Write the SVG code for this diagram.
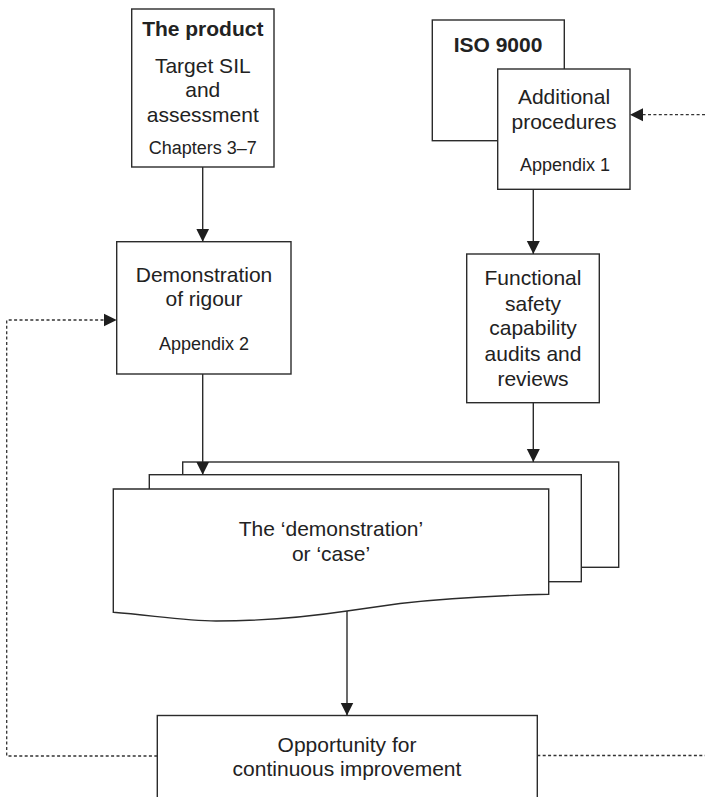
<svg xmlns="http://www.w3.org/2000/svg" width="705" height="797" viewBox="0 0 705 797">
<defs>
<style>
.box{fill:#fff;stroke:#2b2b2b;stroke-width:1.4}
.t{font-family:"Liberation Sans",Arial,Helvetica,sans-serif;font-size:21px;fill:#222;text-anchor:middle}
.s{font-size:18px}
.b{font-weight:bold}
.ln{fill:none;stroke:#2b2b2b;stroke-width:1.4}
.dl{fill:none;stroke:#333;stroke-width:1.3;stroke-dasharray:3 2.4}
</style>
<marker id="ah" markerUnits="userSpaceOnUse" markerWidth="14" markerHeight="14" viewBox="0 0 14 14" refX="13" refY="7" orient="auto">
<path d="M0,0.5 L13,7 L0,13.5 Z" fill="#1e1e1e"/>
</marker>
</defs>

<g id="product">
<rect class="box" x="131.7" y="9" width="142.3" height="158"/>
<text class="t b" x="202.8" y="36">The product</text>
<text class="t" x="202.8" y="73">Target SIL</text>
<text class="t" x="202.8" y="97">and</text>
<text class="t" x="202.8" y="122">assessment</text>
<text class="t s" x="202.8" y="154">Chapters 3–7</text>
</g>

<g id="iso9000">
<rect class="box" x="432.3" y="20" width="132" height="120.7"/>
<text class="t b" x="498" y="51.7">ISO 9000</text>
</g>

<g id="additional">
<rect class="box" x="497.7" y="69" width="132.3" height="120.3"/>
<text class="t" x="564" y="104">Additional</text>
<text class="t" x="564" y="129.3">procedures</text>
<text class="t s" x="565" y="170.7">Appendix 1</text>
</g>

<g id="rigour">
<rect class="box" x="116.7" y="241.7" width="174.3" height="132.3"/>
<text class="t" x="204" y="281.7">Demonstration</text>
<text class="t" x="204" y="305.7">of rigour</text>
<text class="t s" x="204" y="350">Appendix 2</text>
</g>

<g id="functional">
<rect class="box" x="466.7" y="254" width="132.6" height="148.7"/>
<text class="t" x="533" y="285">Functional</text>
<text class="t" x="533" y="310.7">safety</text>
<text class="t" x="533" y="335">capability</text>
<text class="t" x="533" y="360.7">audits and</text>
<text class="t" x="533" y="385.7">reviews</text>
</g>

<g id="case">
<rect class="box" x="182.7" y="462" width="436" height="105.3"/>
<rect class="box" x="149.3" y="474.7" width="432" height="107"/>
<path class="box" d="M113.3,489 L548.7,489 L548.7,594.3 C500,595.5 450,598 400,603.5 L347,611 C300,618 260,621 216,621 C185,621 150,615 113.3,612.3 Z"/>
<text class="t" x="331" y="535.7">The ‘demonstration’</text>
<text class="t" x="331" y="561">or ‘case’</text>
</g>

<g id="opportunity">
<rect class="box" x="157.3" y="715.5" width="380" height="100"/>
<text class="t" x="347" y="751.7">Opportunity for</text>
<text class="t" x="347" y="776">continuous improvement</text>
</g>

<g id="connectors">
<line class="ln" x1="202.7" y1="167" x2="202.7" y2="241.7" marker-end="url(#ah)"/>
<line class="ln" x1="533.3" y1="189.3" x2="533.3" y2="254" marker-end="url(#ah)"/>
<line class="ln" x1="202.7" y1="374" x2="202.7" y2="474.7" marker-end="url(#ah)"/>
<line class="ln" x1="533.3" y1="402.7" x2="533.3" y2="462" marker-end="url(#ah)"/>
<line class="ln" x1="347" y1="611" x2="347" y2="715.5" marker-end="url(#ah)"/>
<line class="dl" x1="705" y1="114.7" x2="630" y2="114.7" marker-end="url(#ah)"/>
<polyline class="dl" points="157.3,756 6.7,756 6.7,320 116.7,320" marker-end="url(#ah)"/>
<line class="dl" x1="537.3" y1="755.5" x2="705" y2="755.5"/>
</g>
</svg>
